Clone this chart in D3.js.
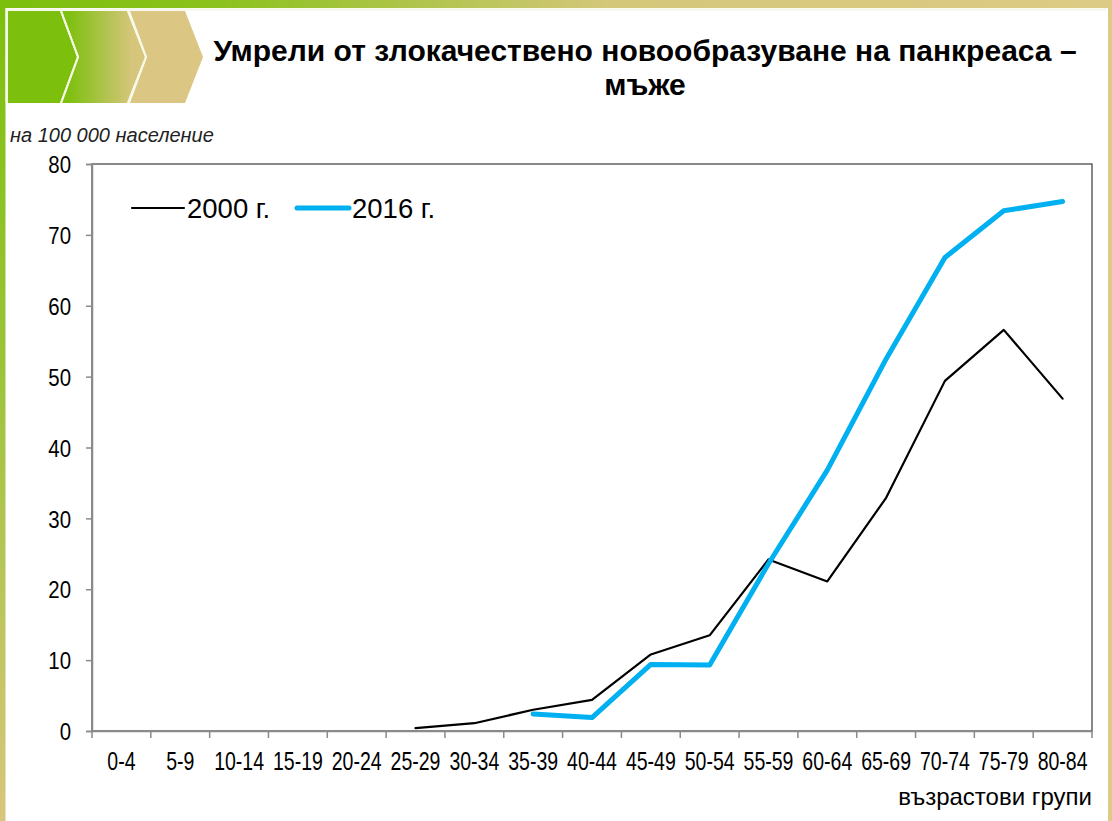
<!DOCTYPE html>
<html>
<head>
<meta charset="utf-8">
<script src="https://cdn.jsdelivr.net/npm/d3@7"></script>
<style>
  html, body { margin: 0; padding: 0; background: #fff; }
  svg { display: block; font-family: "Liberation Sans", Arial, sans-serif; }
</style>
</head>
<body>
<div id="chart"></div>
<script>
const ageGroups = ["0-4", "5-9", "10-14", "15-19", "20-24", "25-29", "30-34", "35-39",
  "40-44", "45-49", "50-54", "55-59", "60-64", "65-69", "70-74", "75-79", "80-84"];
const values2000 = [null, null, null, null, null, 0.4, 1.1, 3.0, 4.4, 10.8, 13.5, 24.2,
  21.1, 32.9, 49.4, 56.6, 46.9];
const values2016 = [null, null, null, null, null, null, null, 2.4, 1.9, 9.4, 9.3, 23.6,
  36.8, 52.5, 66.8, 73.4, 74.7];
const yTicks = [0, 10, 20, 30, 40, 50, 60, 70, 80];
const seriesNames = ["2000 г.", "2016 г."];
const titleLines = ["Умрели от злокачествено новообразуване на панкреаса –", "мъже"];

class ChartPancreas {
  constructor({ el }) {
    this.el = el;
    this.width = 1112;
    this.height = 821;
    this.margin = { top: 164, right: 20, bottom: 90, left: 92 };
    this.initVis();
  }

  initVis() {
    this.svg = d3
      .select(this.el)
      .append("svg")
      .attr("width", this.width)
      .attr("height", this.height);

    this.x = d3
      .scaleBand()
      .domain(ageGroups)
      .range([this.margin.left, this.width - this.margin.right]);
    this.y = d3
      .scaleLinear()
      .domain([0, 80])
      .range([this.height - this.margin.bottom, this.margin.top]);

    this.renderFrame();
    this.renderBanner();
    this.renderAxes();
    this.renderLines();
    this.renderLegend();
  }

  renderFrame() {
    const defs = this.svg.append("defs");
    defs
      .append("linearGradient")
      .attr("id", "top-band")
      .selectAll("stop")
      .data(["#7cbf0c", "#8cc21e", "#d4c77a", "#dccb84"])
      .join("stop")
      .attr("offset", (d, i) => ["0%", "20%", "55%", "100%"][i])
      .attr("stop-color", (d) => d);
    defs
      .append("linearGradient")
      .attr("id", "left-band")
      .attr("x1", 0)
      .attr("x2", 0)
      .attr("y1", 0)
      .attr("y2", 1)
      .selectAll("stop")
      .data(["#7cbf0c", "#9cc43a", "#d8c67c"])
      .join("stop")
      .attr("offset", (d, i) => ["0%", "45%", "100%"][i])
      .attr("stop-color", (d) => d);
    defs
      .append("linearGradient")
      .attr("id", "chevron-mid")
      .selectAll("stop")
      .data(["#80c012", "#d6c67c"])
      .join("stop")
      .attr("offset", (d, i) => (i ? "85%" : "10%"))
      .attr("stop-color", (d) => d);

    this.svg.append("rect").attr("width", this.width).attr("height", 8)
      .attr("fill", "url(#top-band)");
    this.svg.append("rect").attr("width", 5.5).attr("height", this.height)
      .attr("fill", "url(#left-band)");
    this.svg.append("rect").attr("x", this.width - 4).attr("width", 4)
      .attr("height", this.height).attr("fill", "#dccb84");
    this.svg.append("line")
      .attr("x1", 6).attr("x2", this.width - 5).attr("y1", 9.5).attr("y2", 9.5)
      .attr("stroke", "#f4f8e6").attr("stroke-width", 2);
  }

  renderBanner() {
    const g = this.svg.append("g").attr("class", "banner");
    const top = 11, bottom = 103, mid = (top + bottom) / 2;
    g.append("rect").attr("x", 5.5).attr("y", top - 2).attr("width", 56)
      .attr("height", bottom - top + 2).attr("fill", "#f6f9ea");
    const chevrons = [
      { x0: 8, x1: 60, tip: 77, fill: "#7cbf0c" },
      { x0: 62, x1: 127, tip: 145, fill: "url(#chevron-mid)" },
      { x0: 130, x1: 185, tip: 203, fill: "#dbc783" },
    ];
    g.selectAll("path")
      .data(chevrons)
      .join("path")
      .attr("fill", (d) => d.fill)
      .attr("d", (d, i) => {
        const notch = i ? `L${d.x0 + 17},${mid}` : "";
        return `M${d.x0},${top} L${d.x1},${top} L${d.tip},${mid} L${d.x1},${bottom} L${d.x0},${bottom} ${notch} Z`;
      });
    g.selectAll("polyline")
      .data(chevrons.slice(0, 2))
      .join("polyline")
      .attr("fill", "none")
      .attr("stroke", "#f6f9e4")
      .attr("stroke-width", 2)
      .attr("points", (d) => `${d.x1 + 1},${top} ${d.tip + 1},${mid} ${d.x1 + 1},${bottom}`);

    this.svg
      .selectAll(".title")
      .data(titleLines)
      .join("text")
      .attr("class", "title")
      .attr("x", 645)
      .attr("y", (d, i) => 61 + i * 34)
      .attr("text-anchor", "middle")
      .attr("font-size", 30)
      .attr("font-weight", "bold")
      .attr("fill", "#000")
      .text((d) => d);

    this.svg.append("text")
      .attr("x", 10).attr("y", 142)
      .attr("font-size", 20).attr("font-style", "italic")
      .attr("fill", "#222")
      .text("на 100 000 население");
  }

  renderAxes() {
    const [x0, x1] = this.x.range();
    const [yb, yt] = this.y.range();
    const axisGrey = "#8a8a8a";

    this.svg.append("rect")
      .attr("x", x0).attr("y", yt).attr("width", x1 - x0).attr("height", yb - yt)
      .attr("fill", "#fff").attr("stroke", "#3a3a3a").attr("stroke-width", 1.2);

    // y axis: labels are a condensed face in the original
    const gy = this.svg.append("g")
      .attr("transform", `translate(${x0},0)`)
      .call(d3.axisLeft(this.y).tickValues(yTicks).tickSize(6))
      .call((g) => g.select(".domain").attr("stroke", axisGrey).attr("stroke-width", 1.5));
    gy.selectAll(".tick line").attr("stroke", axisGrey).attr("stroke-width", 1.5);
    gy.selectAll(".tick text")
      .attr("x", 0)
      .attr("dy", "0.36em")
      .attr("transform", "translate(-21,0) scale(0.85,1)")
      .attr("font-size", 24)
      .attr("fill", "#000")
      .attr("font-family", "Liberation Sans, Arial, sans-serif");

    const gx = this.svg.append("g")
      .attr("transform", `translate(0,${yb})`)
      .call(d3.axisBottom(this.x).tickSize(0))
      .call((g) => g.select(".domain").attr("stroke", axisGrey).attr("stroke-width", 1.5));
    gx.selectAll(".tick text")
      .attr("y", 0)
      .attr("dy", 0)
      .attr("transform", "translate(0,39) scale(0.75,1)")
      .attr("font-size", 26)
      .attr("fill", "#000")
      .attr("font-family", "Liberation Sans, Arial, sans-serif");
    gx.selectAll(".band-tick")
      .data(ageGroups.concat([null]))
      .join("line")
      .attr("class", "band-tick")
      .attr("x1", (d, i) => x0 + i * this.x.bandwidth())
      .attr("x2", (d, i) => x0 + i * this.x.bandwidth())
      .attr("y1", 0)
      .attr("y2", 7)
      .attr("stroke", axisGrey)
      .attr("stroke-width", 1.5);

    this.svg.append("text")
      .attr("x", x1).attr("y", 805)
      .attr("text-anchor", "end")
      .attr("font-size", 24)
      .attr("fill", "#000")
      .text("възрастови групи");
  }

  renderLines() {
    const line = d3
      .line()
      .defined((d) => d.v !== null)
      .x((d) => this.x(d.age) + this.x.bandwidth() / 2)
      .y((d) => this.y(d.v));
    const series = [
      { values: values2000, color: "#000", width: 2.2 },
      { values: values2016, color: "#00b0f0", width: 5 },
    ];
    this.svg
      .selectAll(".series")
      .data(series)
      .join("path")
      .attr("class", "series")
      .attr("fill", "none")
      .attr("stroke", (d) => d.color)
      .attr("stroke-width", (d) => d.width)
      .attr("stroke-linejoin", "round")
      .attr("stroke-linecap", "round")
      .attr("d", (d) => line(d.values.map((v, i) => ({ age: ageGroups[i], v }))));
  }

  renderLegend() {
    const items = [
      { name: seriesNames[0], color: "#000", width: 2.2, x: 132 },
      { name: seriesNames[1], color: "#00b0f0", width: 5, x: 297 },
    ];
    const g = this.svg.append("g").attr("class", "legend");
    g.selectAll("line")
      .data(items)
      .join("line")
      .attr("x1", (d) => d.x)
      .attr("x2", (d) => d.x + 52)
      .attr("y1", 208)
      .attr("y2", 208)
      .attr("stroke", (d) => d.color)
      .attr("stroke-width", (d) => d.width)
      .attr("stroke-linecap", "round");
    g.selectAll("text")
      .data(items)
      .join("text")
      .attr("x", (d) => d.x + 55)
      .attr("y", 218)
      .attr("font-size", 27.5)
      .attr("fill", "#000")
      .text((d) => d.name);
  }
}

new ChartPancreas({ el: document.getElementById("chart") });
</script>
</body>
</html>
